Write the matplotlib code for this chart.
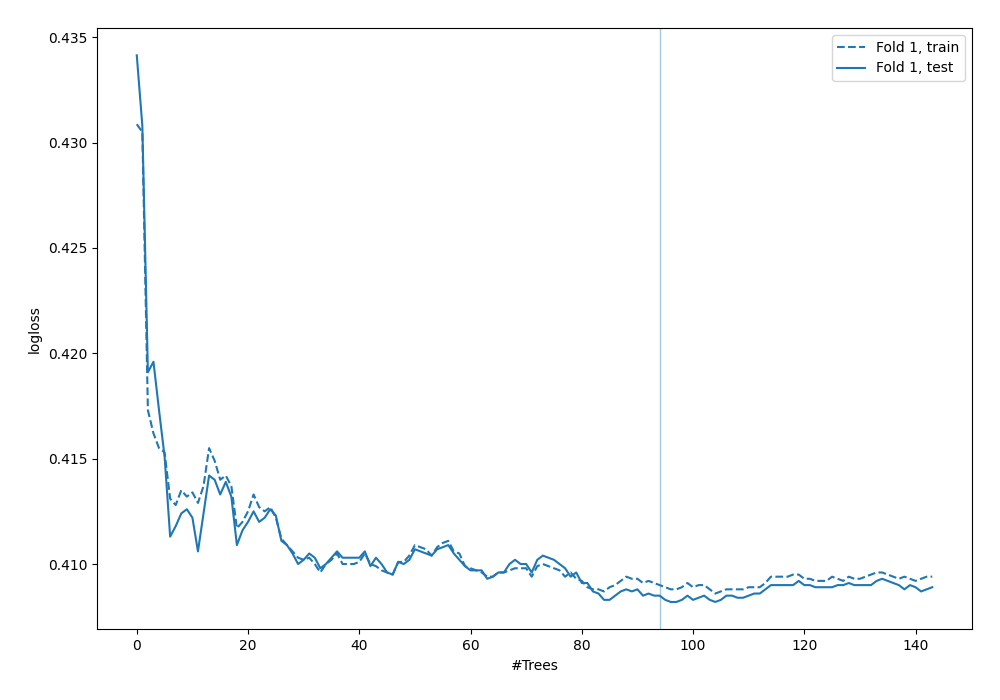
import matplotlib
matplotlib.use("Agg")
import matplotlib.pyplot as plt

# Logloss per antal träd
train_loss = [
    0.43087, 0.4305, 0.4173, 0.4162, 0.4155, 0.4153, 0.4131, 0.4128, 0.4135, 0.4132,
    0.4134, 0.4129, 0.4137, 0.4155, 0.4149, 0.4140, 0.4142, 0.4137, 0.4117, 0.4120,
    0.4125, 0.4133, 0.4127, 0.4125, 0.4127, 0.4122, 0.4112, 0.4109, 0.4106, 0.4103,
    0.4102, 0.4103, 0.4100, 0.4096, 0.4100, 0.4102, 0.4105, 0.4100, 0.4100, 0.4100,
    0.4101, 0.4105, 0.4100, 0.4099, 0.4097, 0.4096, 0.4095, 0.4101, 0.4101, 0.4104,
    0.4109, 0.4108, 0.4107, 0.4104, 0.4108, 0.4110, 0.4111, 0.4106, 0.4105, 0.4099,
    0.4098, 0.4097, 0.4096, 0.4094, 0.4094, 0.4096, 0.4096, 0.4097, 0.4098, 0.4098,
    0.4098, 0.4094, 0.4099, 0.4100, 0.4099, 0.4098, 0.4097, 0.4094, 0.4096, 0.4093,
    0.4092, 0.4089, 0.4088, 0.4088, 0.4087, 0.4089, 0.4090, 0.4092, 0.4094, 0.4093,
    0.4093, 0.4091, 0.4092, 0.4091, 0.4090, 0.4089, 0.4088, 0.4088, 0.4089, 0.4091,
    0.4089, 0.4090, 0.4090, 0.4088, 0.4086, 0.4087, 0.4088, 0.4088, 0.4088, 0.4088,
    0.4089, 0.4089, 0.4089, 0.4091, 0.4094, 0.4094, 0.4094, 0.4094, 0.4095, 0.4095,
    0.4093, 0.4093, 0.4092, 0.4092, 0.4092, 0.4094, 0.4093, 0.4092, 0.4094, 0.4093,
    0.4093, 0.4094, 0.4095, 0.4096, 0.4096, 0.4095, 0.4094, 0.4093, 0.4094, 0.4093,
    0.4092, 0.4093, 0.4094, 0.4094,
]

test_loss = [
    0.43414, 0.4308, 0.4191, 0.4196, 0.4173, 0.4151, 0.4113, 0.4118, 0.4124, 0.4126,
    0.4122, 0.4106, 0.4124, 0.4142, 0.4140, 0.4133, 0.4139, 0.4132, 0.4109, 0.4116,
    0.4120, 0.4125, 0.4120, 0.4122, 0.4126, 0.4123, 0.4111, 0.4109, 0.4105, 0.4100,
    0.4102, 0.4105, 0.4103, 0.4098, 0.4100, 0.4103, 0.4106, 0.4103, 0.4103, 0.4103,
    0.4103, 0.4106, 0.4099, 0.4103, 0.4100, 0.4096, 0.4095, 0.4101, 0.4100, 0.4102,
    0.4107, 0.4106, 0.4105, 0.4104, 0.4107, 0.4108, 0.4109, 0.4105, 0.4102, 0.4099,
    0.4097, 0.4097, 0.4097, 0.4093, 0.4094, 0.4096, 0.4096, 0.4100, 0.4102, 0.4100,
    0.4100, 0.4096, 0.4102, 0.4104, 0.4103, 0.4102, 0.4100, 0.4098, 0.4094, 0.4096,
    0.4091, 0.4091, 0.4087, 0.4086, 0.4083, 0.4083, 0.4085, 0.4087, 0.4088, 0.4087,
    0.4088, 0.4085, 0.4086, 0.4085, 0.4085, 0.4083, 0.4082, 0.4082, 0.4083, 0.4085,
    0.4083, 0.4084, 0.4085, 0.4083, 0.4082, 0.4083, 0.4085, 0.4085, 0.4084, 0.4084,
    0.4085, 0.4086, 0.4086, 0.4088, 0.4090, 0.4090, 0.4090, 0.4090, 0.4090, 0.4092,
    0.4090, 0.4090, 0.4089, 0.4089, 0.4089, 0.4089, 0.4090, 0.4090, 0.4091, 0.4090,
    0.4090, 0.4090, 0.4090, 0.4092, 0.4093, 0.4092, 0.4091, 0.4090, 0.4088, 0.4090,
    0.4089, 0.4087, 0.4088, 0.4089,
]

best_iteration = 94
trees = list(range(len(test_loss)))

fig, ax = plt.subplots(figsize=(10, 7), dpi=100)
ax.plot(trees, train_loss, linestyle="--", color="C0", label="Fold 1, train")
ax.plot(trees, test_loss, linestyle="-", color="C0", label="Fold 1, test")
ax.axvline(best_iteration, color="C0", alpha=0.4, linewidth=1)
ax.set_xlabel("#Trees")
ax.set_ylabel("logloss")
ax.legend(loc="upper right")
fig.subplots_adjust(left=0.097, right=0.972, top=0.96, bottom=0.101)
fig.savefig("out.png")
